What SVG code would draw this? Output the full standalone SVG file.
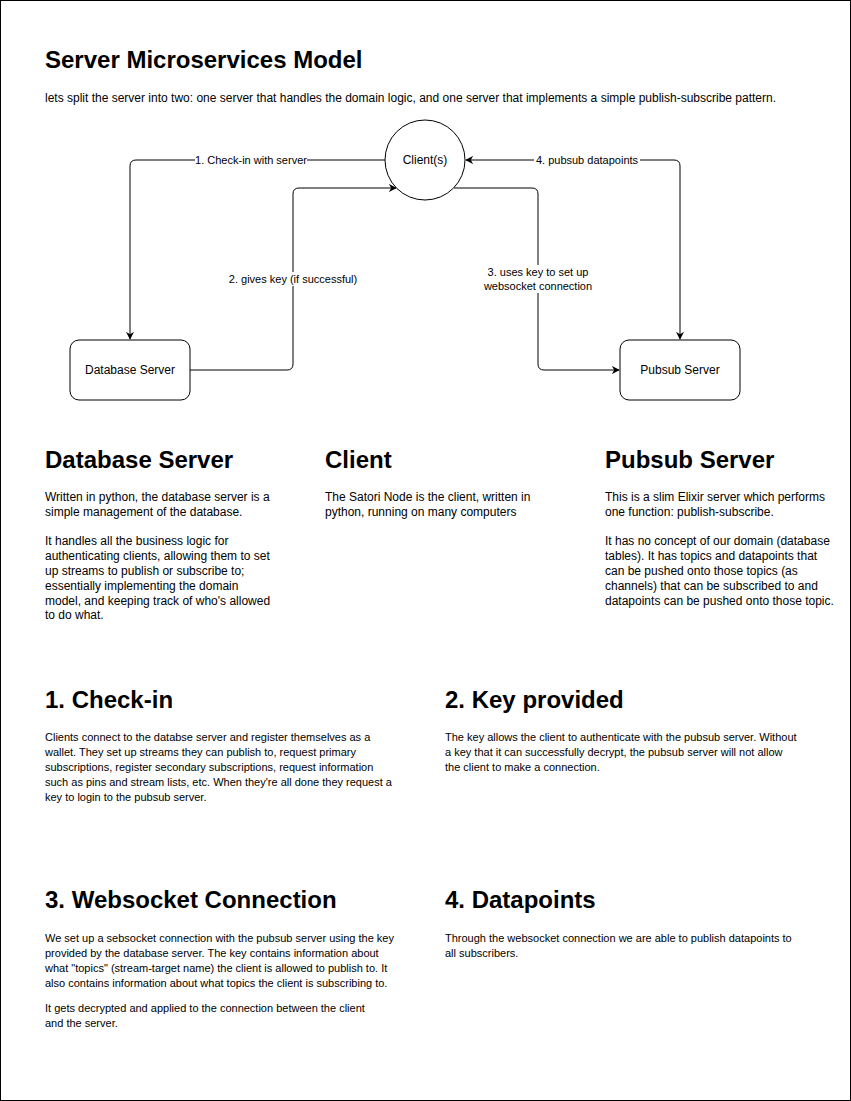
<svg xmlns="http://www.w3.org/2000/svg" width="851" height="1101" viewBox="0 0 851 1101">
<style>
text{font-family:"Liberation Sans",Arial,sans-serif;fill:#000}
.h1{font-size:24px;font-weight:bold}
.sub{font-size:12px}
.b12{font-size:12px}
.b11{font-size:11px}
.lbl{font-size:11px;text-anchor:middle}
.node{fill:#fff;stroke:#000;stroke-width:1}
.edge{fill:none;stroke:#000;stroke-width:1}
.nl{font-size:12px;text-anchor:middle}
</style>
<defs>
<marker id="arr" viewBox="0 0 10 10" refX="9" refY="5" markerWidth="8" markerHeight="8" markerUnits="userSpaceOnUse" orient="auto-start-reverse">
<path d="M0,0 L10,5 L0,10 L3,5 Z" fill="#000"/>
</marker>
</defs>
<rect x="0.5" y="0.5" width="850" height="1100" fill="#fff" stroke="#000" stroke-width="1"/>
<text class="h1" x="45" y="68">Server Microservices Model</text>
<text class="sub" x="45" y="102">lets split the server into two: one server that handles the domain logic, and one server that implements a simple publish-subscribe pattern.</text>
<g id="connectors">
<path class="edge" d="M385,160 L136,160 Q130,160 130,166 L130,339" marker-end="url(#arr)"/>
<path class="edge" d="M190,370 L287,370 Q293,370 293,364 L293,194 Q293,188 299,188 L396,188" marker-end="url(#arr)"/>
<path class="edge" d="M454,188 L532,188 Q538,188 538,194 L538,364 Q538,370 544,370 L619,370" marker-end="url(#arr)"/>
<path class="edge" d="M466,160 L674,160 Q680,160 680,166 L680,339" marker-start="url(#arr)" marker-end="url(#arr)"/>
<rect x="195" y="153" width="112" height="14" fill="#fff"/>
<text class="lbl" x="251" y="164">1. Check-in with server</text>
<rect x="228" y="272" width="131" height="14" fill="#fff"/>
<text class="lbl" x="293" y="283">2. gives key (if successful)</text>
<rect x="482" y="265" width="112" height="28" fill="#fff"/>
<text class="lbl" x="538" y="276">3. uses key to set up</text>
<text class="lbl" x="538" y="290">websocket connection</text>
<rect x="534" y="153" width="106" height="14" fill="#fff"/>
<text class="lbl" x="587" y="164">4. pubsub datapoints</text>
</g>
<g id="client">
<circle class="node" cx="425" cy="160" r="40"/>
<text class="nl" x="425" y="164">Client(s)</text>
</g>
<g id="database-server">
<rect class="node" x="70" y="340" width="120" height="60" rx="9"/>
<text class="nl" x="130" y="374">Database Server</text>
</g>
<g id="pubsub-server">
<rect class="node" x="620" y="340" width="120" height="60" rx="9"/>
<text class="nl" x="680" y="374">Pubsub Server</text>
</g>
<g id="desc-database">
<text class="h1" x="45" y="468">Database Server</text>
<text class="b12" x="45" y="501">Written in python, the database server is a</text>
<text class="b12" x="45" y="516">simple management of the database.</text>
<text class="b12" x="45" y="545">It handles all the business logic for</text>
<text class="b12" x="45" y="560">authenticating clients, allowing them to set</text>
<text class="b12" x="45" y="575">up streams to publish or subscribe to;</text>
<text class="b12" x="45" y="590">essentially implementing the domain</text>
<text class="b12" x="45" y="605">model, and keeping track of who's allowed</text>
<text class="b12" x="45" y="619">to do what.</text>
</g>
<g id="desc-client">
<text class="h1" x="325" y="468">Client</text>
<text class="b12" x="325" y="501">The Satori Node is the client, written in</text>
<text class="b12" x="325" y="516">python, running on many computers</text>
</g>
<g id="desc-pubsub">
<text class="h1" x="605" y="468">Pubsub Server</text>
<text class="b12" x="605" y="501">This is a slim Elixir server which performs</text>
<text class="b12" x="605" y="516">one function: publish-subscribe.</text>
<text class="b12" x="605" y="545">It has no concept of our domain (database</text>
<text class="b12" x="605" y="560">tables). It has topics and datapoints that</text>
<text class="b12" x="605" y="575">can be pushed onto those topics (as</text>
<text class="b12" x="605" y="590">channels) that can be subscribed to and</text>
<text class="b12" x="605" y="605">datapoints can be pushed onto those topic.</text>
</g>
<g id="step1">
<text class="h1" x="45" y="708">1. Check-in</text>
<text class="b11" x="45" y="741">Clients connect to the databse server and register themselves as a</text>
<text class="b11" x="45" y="756">wallet. They set up streams they can publish to, request primary</text>
<text class="b11" x="45" y="771">subscriptions, register secondary subscriptions, request information</text>
<text class="b11" x="45" y="786">such as pins and stream lists, etc. When they're all done they request a</text>
<text class="b11" x="45" y="801">key to login to the pubsub server.</text>
</g>
<g id="step2">
<text class="h1" x="445" y="708">2. Key provided</text>
<text class="b11" x="445" y="741">The key allows the client to authenticate with the pubsub server. Without</text>
<text class="b11" x="445" y="756">a key that it can successfully decrypt, the pubsub server will not allow</text>
<text class="b11" x="445" y="771">the client to make a connection.</text>
</g>
<g id="step3">
<text class="h1" x="45" y="908">3. Websocket Connection</text>
<text class="b11" x="45" y="942">We set up a sebsocket connection with the pubsub server using the key</text>
<text class="b11" x="45" y="957">provided by the database server. The key contains information about</text>
<text class="b11" x="45" y="972">what "topics" (stream-target name) the client is allowed to publish to. It</text>
<text class="b11" x="45" y="987">also contains information about what topics the client is subscribing to.</text>
<text class="b11" x="45" y="1012">It gets decrypted and applied to the connection between the client</text>
<text class="b11" x="45" y="1027">and the server.</text>
</g>
<g id="step4">
<text class="h1" x="445" y="908">4. Datapoints</text>
<text class="b11" x="445" y="942">Through the websocket connection we are able to publish datapoints to</text>
<text class="b11" x="445" y="957">all subscribers.</text>
</g>
</svg>
